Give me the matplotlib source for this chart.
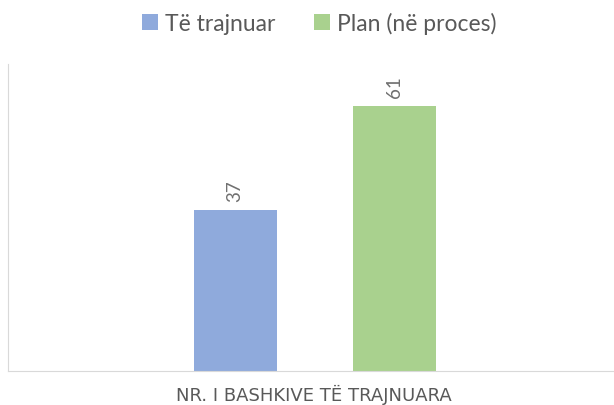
import matplotlib.pyplot as plt

# data
series = ["Të trajnuar", "Plan (në proces)"]
values = [37, 61]
colors = ["#8FAADC", "#A9D18E"]
category = "NR. I BASHKIVE TË TRAJNUARA"

plt.rcParams['font.family'] = ['Lato', 'DejaVu Sans']
text_gray = "#595959"

fig = plt.figure(figsize=(6.14, 4.06), dpi=100)
ax = fig.add_axes([8 / 614, 34 / 406, 1.0, 307 / 406])

offsets = [-0.26, 0.26]
width = 0.27
for off, val, col, name in zip(offsets, values, colors, series):
    ax.bar(off, val, width=width, color=col, label=name)
    ax.text(off, val + 2.2, str(val), rotation=90, ha='center', va='bottom',
            fontsize=13.5, color="#707070")

ax.set_xlim(-1.0, 1.0)
ax.set_ylim(0, 70.7)
ax.set_xticks([])
ax.set_yticks([])
for s in ["top", "right"]:
    ax.spines[s].set_visible(False)
ax.spines["left"].set_color("#D9D9D9")
ax.spines["bottom"].set_color("#D9D9D9")

fig.text(314 / 614, 5 / 406, category, ha='center', va='baseline',
         fontsize=13, color=text_gray, family='DejaVu Sans')

fig.legend(loc='upper center', bbox_to_anchor=(319 / 614, 1.02), ncol=2, frameon=False,
           fontsize=16.5, handlelength=0.7, handleheight=0.7, handletextpad=0.3,
           columnspacing=1.7, labelcolor=text_gray)

fig.savefig("out.png", dpi=100)
